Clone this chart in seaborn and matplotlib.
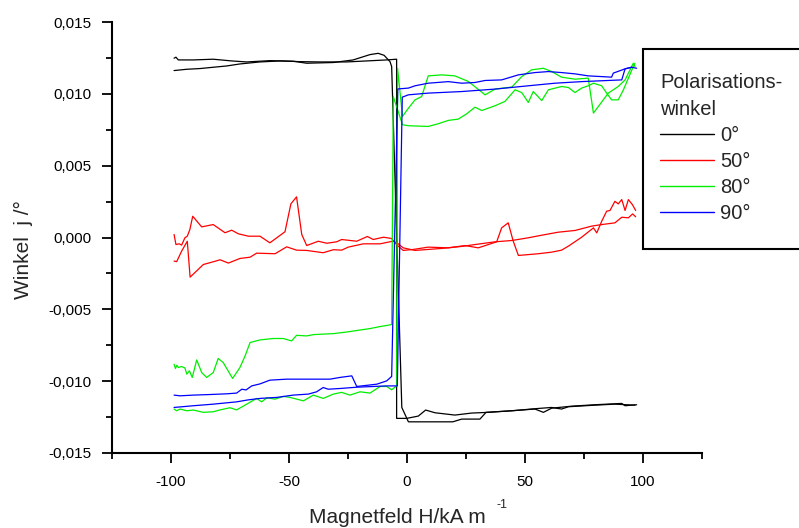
import matplotlib
matplotlib.use("Agg")
import matplotlib.pyplot as plt
from matplotlib.lines import Line2D
from matplotlib.patches import Rectangle
from matplotlib.ticker import MultipleLocator, FuncFormatter
import numpy as np
import pandas as pd
import seaborn as sns

# ---------------- data ----------------
series_labels = ["0°", "50°", "80°", "90°"]
series_colors = ["#000000", "#ff0000", "#00ee00", "#0000ff"]

# 0° : two branches of the hysteresis loop
h_0_a = [-98.7, -97.9, -96.9, -90.5, -82.1, -74.3, -67.9, -58.1, -48.2, -42.5, -31.2, -22.8,
         -15.7, -12.2, -9.7, -7.2, -6.5, -2.2, 0.6, 19.4, 23.2, 30.9, 33.5, 44.4, 55.6, 61.3,
         65.5, 68.4, 79.7, 88.1, 96.6]
w_0_a = [0.01248, 0.01255, 0.01236, 0.01236, 0.01241, 0.01229, 0.01222, 0.01231, 0.01227,
         0.01213, 0.01218, 0.01236, 0.01273, 0.01282, 0.01268, 0.01224, 0.01190, -0.01183,
         -0.01283, -0.01283, -0.01264, -0.01264, -0.01217, -0.01206, -0.01190, -0.01183,
         -0.01194, -0.01178, -0.01167, -0.01160, -0.01167]
h_0_b = [-98.7, -93.3, -87.7, -82.1, -76.4, -70.8, -62.3, -53.8, -45.3, -36.9, -25.6, -17.1,
         -8.6, -4.4, -4.4, -0.1, 4.8, 7.9, 11.9, 20.3, 27.4, 34.4, 44.4, 54.2, 57.8, 61.3,
         69.8, 79.7, 91.0, 92.4, 97.3]
w_0_b = [0.01162, 0.01171, 0.01176, 0.01185, 0.01194, 0.01208, 0.01222, 0.01229, 0.01224,
         0.01222, 0.01222, 0.01229, 0.01236, 0.01241, -0.01259, -0.01259, -0.01243, -0.01201,
         -0.01220, -0.01236, -0.01222, -0.01217, -0.01206, -0.01194, -0.01217, -0.01188,
         -0.01174, -0.01164, -0.01155, -0.01171, -0.01164]

# 50°
h_50_a = [-98.7, -97.9, -96.5, -95.5, -94.1, -93.1, -92.0, -90.8, -87.0, -82.1, -77.1, -74.3,
          -71.5, -67.2, -62.3, -58.1, -51.7, -49.2, -46.8, -44.6, -42.5, -37.6, -34.0, -29.8,
          -27.7, -21.3, -16.8, -14.3, -10.0, -6.5, -5.1, -3.7, -1.6, 2.7, 9.0, 17.5, 24.6,
          30.2, 38.0, 40.1, 42.9, 45.0, 47.2, 55.6, 61.3, 65.5, 68.4, 74.0, 79.0, 80.4, 82.5,
          84.6, 86.0, 88.1, 89.5, 91.0, 92.4, 93.8, 95.5, 96.9]
w_50_a = [0.00021, -0.00049, -0.00044, -0.00053, -0.00002, 0.00009, 0.00056, 0.00148, 0.00074,
          0.00090, 0.00033, 0.00051, 0.00026, 0.00009, 0.00009, -0.00037, 0.00040, 0.00234,
          0.00283, 0.00021, -0.00056, -0.00026, -0.00040, -0.00030, -0.00014, -0.00026,
          0.00007, -0.00014, 0.00002, -0.00007, -0.00037, -0.00060, -0.00090, -0.00083,
          -0.00067, -0.00072, -0.00056, -0.00072, -0.00030, 0.00067, 0.00102, -0.00025,
          -0.00125, -0.00113, -0.00102, -0.00088, -0.00060, 0.00002, 0.00067, 0.00032,
          0.00113, 0.00183, 0.00188, 0.00252, 0.00234, 0.00264, 0.00188, 0.00264, 0.00229,
          0.00188]
h_50_b = [-98.7, -97.6, -95.5, -93.1, -91.9, -86.3, -82.1, -79.2, -75.7, -70.8, -66.5, -63.7,
          -55.9, -51.0, -46.8, -42.5, -35.5, -31.2, -27.7, -24.9, -18.5, -11.4, -5.8, -3.7,
          -1.6, 3.4, 14.7, 23.2, 28.8, 37.3, 44.4, 51.4, 57.1, 64.1, 71.2, 78.2, 82.5, 88.1,
          91.0, 93.8, 95.6, 96.9]
w_50_b = [-0.00164, -0.00168, -0.00095, -0.00026, -0.00276, -0.00188, -0.00169, -0.00155,
          -0.00178, -0.00146, -0.00137, -0.00109, -0.00113, -0.00065, -0.00088, -0.00090,
          -0.00106, -0.00085, -0.00088, -0.00067, -0.00044, -0.00044, -0.00025, -0.00044,
          -0.00072, -0.00090, -0.00076, -0.00062, -0.00049, -0.00030, -0.00021, -0.00002,
          0.00016, 0.00037, 0.00049, 0.00079, 0.00090, 0.00102, 0.00141, 0.00137, 0.00164,
          0.00144]

# 80°
h_80_a = [-98.7, -98.1, -97.5, -96.9, -95.5, -94.1, -93.3, -92.2, -91.0, -89.1, -87.0, -84.9,
          -82.1, -80.0, -77.9, -73.9, -70.8, -68.6, -66.5, -62.3, -56.7, -52.4, -48.9, -46.8,
          -42.5, -39.7, -31.2, -25.6, -19.9, -15.7, -11.4, -6.5, -5.8, -1.9, 0.6, 9.0, 13.3,
          17.5, 21.7, 25.3, 28.8, 31.7, 37.3, 41.5, 45.8, 48.6, 51.4, 53.5, 57.1, 59.9, 65.5,
          68.4, 71.2, 74.0, 76.8, 79.0, 82.5, 84.6, 86.7, 89.5, 91.7, 93.8, 95.9, 96.6]
w_80_a = [-0.00882, -0.00912, -0.00889, -0.00905, -0.00898, -0.00908, -0.00951, -0.00928,
          -0.00974, -0.00852, -0.00940, -0.00974, -0.00940, -0.00842, -0.00870, -0.00981,
          -0.00905, -0.00824, -0.00731, -0.00713, -0.00703, -0.00703, -0.00720, -0.00681,
          -0.00685, -0.00676, -0.00669, -0.00658, -0.00644, -0.00634, -0.00620, -0.00606,
          0.00980, 0.00785, 0.00778, 0.00773, 0.00792, 0.00815, 0.00824, 0.00861, 0.00907,
          0.00884, 0.00917, 0.00947, 0.01028, 0.01009, 0.00940, 0.01016, 0.00953, 0.01028,
          0.01051, 0.01044, 0.01009, 0.01040, 0.01056, 0.01074, 0.01056, 0.01005, 0.00958,
          0.00958, 0.01028, 0.01109, 0.01190, 0.01213]
h_80_b = [-98.7, -97.6, -96.2, -93.3, -90.5, -86.3, -82.1, -79.2, -75.0, -72.2, -67.9, -63.7,
          -61.6, -59.4, -55.9, -52.4, -49.6, -43.9, -39.7, -35.5, -31.2, -27.7, -24.2, -19.9,
          -15.7, -11.4, -8.6, -6.5, -4.4, -4.0, -1.9, 0.6, 3.4, 6.2, 9.0, 14.7, 20.3, 26.0,
          33.1, 37.3, 44.4, 48.6, 52.8, 57.8, 61.3, 65.5, 71.2, 76.8, 79.0, 85.3, 89.5, 92.4,
          94.5, 95.9, 96.6]
w_80_b = [-0.01194, -0.01206, -0.01194, -0.01206, -0.01201, -0.01217, -0.01213, -0.01200,
          -0.01185, -0.01200, -0.01160, -0.01120, -0.01144, -0.01116, -0.01125, -0.01106,
          -0.01113, -0.01137, -0.01097, -0.01120, -0.01090, -0.01078, -0.01097, -0.01074,
          -0.01083, -0.01037, -0.01037, -0.01060, -0.01033, 0.01178, 0.00843, 0.00900,
          0.00958, 0.00981, 0.01125, 0.01132, 0.01125, 0.01086, 0.00993, 0.01033, 0.01047,
          0.01120, 0.01167, 0.01178, 0.01155, 0.01116, 0.01102, 0.01109, 0.00866, 0.01005,
          0.01051, 0.01097, 0.01167, 0.01213, 0.01190]

# 90°
h_90_a = [-98.7, -96.2, -90.5, -83.5, -76.4, -72.2, -70.0, -68.2, -65.8, -62.3, -58.1, -51.0,
          -41.1, -32.6, -28.4, -23.4, -21.3, -12.8, -8.6, -6.5, -3.9, 0.6, 3.4, 9.0, 17.5,
          23.2, 28.8, 33.1, 40.1, 47.2, 54.2, 59.9, 65.5, 71.2, 76.8, 82.5, 86.7, 87.4, 92.4,
          95.2, 97.3]
w_90_a = [-0.01097, -0.01102, -0.01097, -0.01093, -0.01088, -0.01083, -0.01056, -0.01061,
          -0.01033, -0.01019, -0.00993, -0.00986, -0.00986, -0.00986, -0.00974, -0.00963,
          -0.01037, -0.01021, -0.00998, -0.00967, 0.01034, 0.01040, 0.01056, 0.01074,
          0.01085, 0.01074, 0.01079, 0.01093, 0.01097, 0.01132, 0.01148, 0.01155, 0.01148,
          0.01139, 0.01125, 0.01120, 0.01116, 0.01144, 0.01174, 0.01185, 0.01178]
h_90_b = [-98.7, -90.5, -82.1, -72.2, -67.2, -62.3, -55.2, -48.2, -41.8, -38.3, -35.5, -33.4,
          -28.4, -21.3, -14.3, -8.6, -4.1, -2.0, 0.6, 9.0, 23.2, 37.3, 51.4, 62.7, 74.0, 85.3,
          91.0, 92.4, 95.2]
w_90_b = [-0.01183, -0.01171, -0.01160, -0.01144, -0.01130, -0.01120, -0.01113, -0.01097,
          -0.01090, -0.01074, -0.01044, -0.01056, -0.01051, -0.01042, -0.01037, -0.01033,
          -0.01033, 0.00977, 0.00993, 0.01005, 0.01016, 0.01033, 0.01056, 0.01074, 0.01085,
          0.01093, 0.01097, 0.01174, 0.01185]

x_ticks = [-100, -50, 0, 50, 100]
y_ticks = [-0.015, -0.010, -0.005, 0.0, 0.005, 0.010, 0.015]

# ---------------- assemble ----------------
branches = [
    ("0°", "a", h_0_a, w_0_a), ("0°", "b", h_0_b, w_0_b),
    ("50°", "a", h_50_a, w_50_a), ("50°", "b", h_50_b, w_50_b),
    ("80°", "a", h_80_a, w_80_a), ("80°", "b", h_80_b, w_80_b),
    ("90°", "a", h_90_a, w_90_a), ("90°", "b", h_90_b, w_90_b),
]
frames = []
for lab, br, h, w in branches:
    frames.append(pd.DataFrame({"H": h, "W": w, "Serie": lab, "Zweig": lab + br}))
df = pd.concat(frames, ignore_index=True)
palette = dict(zip(series_labels, series_colors))

sns.set_style("ticks")
plt.rcParams["font.family"] = ["Liberation Sans", "DejaVu Sans"]
plt.rcParams["axes.unicode_minus"] = False

fig = plt.figure(figsize=(7.99, 5.28), dpi=100)
ax = fig.add_axes([112 / 799, 75 / 528, 590 / 799, 431 / 528])

sns.lineplot(data=df, x="H", y="W", hue="Serie", hue_order=series_labels, units="Zweig",
             estimator=None, sort=False, palette=palette, linewidth=0.9, ax=ax, legend=False)

ax.set_xlim(-125, 125)
ax.set_ylim(-0.015, 0.015)
ax.set_xticks(x_ticks)
ax.set_yticks(y_ticks)
ax.xaxis.set_minor_locator(MultipleLocator(25))
ax.yaxis.set_minor_locator(MultipleLocator(0.0025))
ax.yaxis.set_major_formatter(FuncFormatter(lambda v, p: f"{v:.3f}".replace(".", ",").replace("-0,000", "0,000")))
ax.xaxis.set_major_formatter(FuncFormatter(lambda v, p: f"{v:g}"))

for s in ["top", "right"]:
    ax.spines[s].set_visible(False)
for s in ["left", "bottom"]:
    ax.spines[s].set_linewidth(1.5)
    ax.spines[s].set_color("black")

ax.tick_params(which="major", direction="out", length=7, width=1.3, labelsize=11,
               color="black", labelcolor="black")
ax.tick_params(axis="y", which="major", pad=8)
ax.tick_params(axis="x", which="major", pad=9)
ax.tick_params(which="minor", direction="out", length=4.5, width=1.3, color="black")

ax.set_xlabel("Magnetfeld H/kA m", fontsize=15)
ax.xaxis.set_label_coords((397 - 112) / 590, (453 - 508) / 431)
fig.text(502 / 799, 1 - 505 / 528, "-1", fontsize=9, ha="center", va="center")
ax.set_ylabel("Winkel  j /°", fontsize=15)
ax.yaxis.set_label_coords((33 - 112) / 590, (453 - 250) / 431)

# legend frame (box runs to the right edge of the image)
frame = Rectangle((643 / 799, 1 - 249 / 528), (820 - 643) / 799, 200 / 528,
                  transform=fig.transFigure, fill=True, facecolor="white",
                  edgecolor="black", linewidth=1.5, zorder=5)
fig.add_artist(frame)

handles = [Line2D([], [], color=c, linewidth=1.0) for c in series_colors]
leg = ax.legend(handles, series_labels, title="Polarisations-\nwinkel", loc="upper left",
                bbox_to_anchor=(660 / 799, 1 - 73 / 528), bbox_transform=fig.transFigure,
                fontsize=14.5, title_fontsize=14.5, frameon=False,
                alignment="left", handlelength=2.7,
                handletextpad=0.3, labelspacing=0.34, borderpad=0, borderaxespad=0)
leg.get_title().set_linespacing(1.55)
leg.set_zorder(6)
leg.remove()
fig.add_artist(leg)

fig.savefig("out.png", dpi=100)
